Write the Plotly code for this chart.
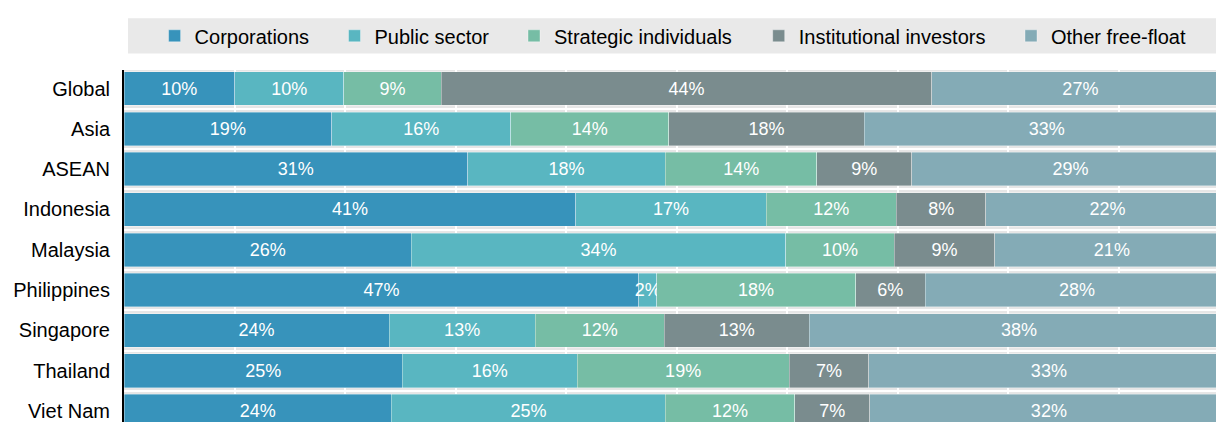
import plotly.graph_objects as go

# ---- data (shares of market capitalisation, %) ----
regions = ["Global", "Asia", "ASEAN", "Indonesia", "Malaysia",
           "Philippines", "Singapore", "Thailand", "Viet Nam"]
series_names = ["Corporations", "Public sector", "Strategic individuals",
                "Institutional investors", "Other free-float"]
corporations = [10.0, 18.8, 31.1, 40.9, 26.0, 46.6, 24.0, 25.2, 24.2]
public_sector = [9.9, 16.2, 17.9, 17.2, 33.9, 1.6, 13.2, 15.8, 24.8]
strategic_individuals = [8.8, 14.3, 13.7, 11.8, 9.8, 18.0, 11.7, 19.2, 11.7]
institutional_investors = [44.4, 17.7, 8.6, 8.1, 9.1, 6.3, 13.1, 7.2, 6.8]
other_free_float = [26.9, 33.0, 28.7, 22.0, 21.2, 27.5, 38.0, 32.6, 32.4]

values = [corporations, public_sector, strategic_individuals,
          institutional_investors, other_free_float]
colors = ["#3793bb", "#59b6c1", "#76bda5", "#7a8c8e", "#84abb6"]

FONT = "Liberation Sans, Arial, sans-serif"

W, H = 1216, 422
ML, MT = 124, 70
plot_w = W - ML
plot_h = H - MT
px_per_pct = 11.05

# pixel x of where each legend entry's text starts
legend_text_px = [194.6, 374.5, 554, 798.7, 1051]

ypos = list(range(len(regions)))

fig = go.Figure()
for i, (name, vals, col) in enumerate(zip(series_names, values, colors)):
    fig.add_trace(go.Bar(
        y=ypos, x=vals, name=name, orientation="h",
        marker=dict(color=col, line=dict(color="rgba(255,255,255,0.45)", width=0.8)),
        text=vals, texttemplate="%{x:.0f}%",
        textposition="inside", insidetextanchor="middle", textangle=0,
        textfont=dict(color="white", size=18, family=FONT),
        cliponaxis=True, hoverinfo="skip",
        legend="legend" if i == 0 else f"legend{i + 1}",
    ))

# legend background band
fig.add_shape(type="rect", xref="paper", yref="paper",
              x0=(128 - ML) / plot_w, x1=1.0,
              y0=1 + (MT - 53.5) / plot_h, y1=1 + (MT - 18.3) / plot_h,
              fillcolor="#e9e9e9", line=dict(width=0), layer="below")

legend_common = dict(orientation="h", xanchor="left",
                     y=1 + (MT - 35.8) / plot_h, yanchor="middle",
                     bgcolor="rgba(0,0,0,0)", font=dict(size=20, family=FONT),
                     itemwidth=30, itemclick=False, itemdoubleclick=False)
legends = {}
for i, tx in enumerate(legend_text_px):
    key = "legend" if i == 0 else f"legend{i + 1}"
    legends[key] = dict(legend_common, x=(tx - 40 - ML) / plot_w)

fig.update_layout(
    width=W, height=H,
    margin=dict(l=ML, r=0, t=MT, b=0, pad=0, autoexpand=False),
    barmode="stack", bargap=0.166,
    plot_bgcolor="#e6e6e6", paper_bgcolor="white",
    font=dict(family=FONT, size=20, color="black"),
    uniformtext=dict(minsize=18, mode="show"),
    showlegend=True,
    xaxis=dict(range=[0, plot_w / px_per_pct], dtick=10, tick0=0,
               showgrid=True, gridcolor="white", gridwidth=1.5,
               showticklabels=False, zeroline=False, showline=False, fixedrange=True),
    yaxis=dict(range=[(H - 88.5) / 40.33, -(88.5 - MT) / 40.33],
               tickvals=ypos, ticktext=regions, showgrid=False,
               minor=dict(tickvals=[i + 0.5 for i in ypos[:-1]], showgrid=True,
                          gridcolor="white", gridwidth=2, ticks=""),
               showline=True, linecolor="black", linewidth=2,
               ticks="", ticklabelstandoff=8, ticklabeloverflow="allow",
               zeroline=False, fixedrange=True,
               automargin=False, tickfont=dict(size=20, family=FONT)),
    **legends,
)

fig.write_html("out.html", config={"displayModeBar": False},
               post_script="document.body.style.margin='0';document.body.style.overflow='hidden';")
